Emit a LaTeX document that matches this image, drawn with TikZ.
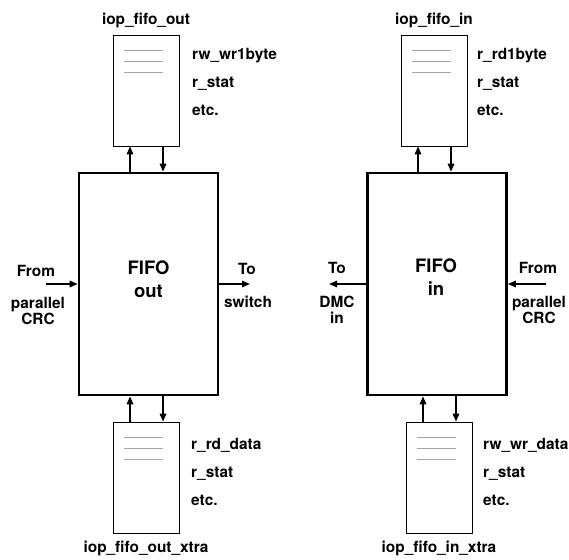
\documentclass[tikz,border=0pt]{standalone}
\usepackage{fontspec}
\setmainfont{TeX Gyre Heros}
\usetikzlibrary{positioning,arrows.meta,calc}

\tikzset{
  fifobox/.style={draw, line width=2.6pt, minimum width=139pt, minimum height=222pt, inner sep=0pt},
  regbox/.style={draw, line width=0.8pt, minimum width=66pt, minimum height=111pt, inner sep=0pt},
  lbl/.style={font=\bfseries\fontsize{15.4}{16}\selectfont, inner sep=1pt},
  reglist/.style={font=\bfseries\fontsize{15.4}{28}\selectfont, align=left, inner sep=0pt, anchor=north west},
  sig/.style={->, line width=1.6pt},
}

\begin{document}
\begin{tikzpicture}[x=1pt, y=-1pt, >={Triangle[length=8pt,width=6.5pt]}]
  \useasboundingbox (0,0) rectangle (569,559);

  % fifo out side
  \node[fifobox] (FifoOut) at (148.5,284) {};
  \node[font=\bfseries\fontsize{18.5}{23}\selectfont, align=center, anchor=north] (FifoOutTxt) at (148.5,257) {FIFO\\out};
  \node[regbox] (RegOut) at (146,90.5) {};
  \node[regbox] (RegOutX) at (146,477.5) {};
  \node[lbl, above=6pt of RegOut] (RegOutName) {iop\_fifo\_out};
  \node[lbl, below=6pt of RegOutX] (RegOutXName) {iop\_fifo\_out\_xtra};
  \node[reglist] (RegOutList) at (192,48) {rw\_wr1byte\\r\_stat\\etc.};
  \node[reglist] (RegOutXList) at (191,438) {r\_rd\_data\\r\_stat\\etc.};

  % fifo in side
  \node[fifobox] (FifoIn) at (437,284) {};
  \node[font=\bfseries\fontsize{18.5}{23}\selectfont, align=center, anchor=north] (FifoInTxt) at (436,255) {FIFO\\in};
  \node[regbox] (RegIn) at (434,90.5) {};
  \node[regbox] (RegInX) at (439,477.5) {};
  \node[lbl, above=6pt of RegIn] (RegInName) {iop\_fifo\_in};
  \node[lbl, below=6pt of RegInX] (RegInXName) {iop\_fifo\_in\_xtra};
  \node[reglist] (RegInList) at (477,48) {r\_rd1byte\\r\_stat\\etc.};
  \node[reglist] (RegInXList) at (483,438) {rw\_wr\_data\\r\_stat\\etc.};

  % register lines
  \foreach \r in {RegOut,RegOutX,RegIn,RegInX}
    \foreach \d in {16,27,38}
      \draw[gray!70, line width=0.7pt] ([xshift=11pt,yshift=-\d pt]\r.north west) -- ++(39,0);

  % register arrows
  \foreach \r/\f in {RegOut/FifoOut,RegIn/FifoIn}{
    \draw[sig] ([xshift=-16pt]\r.south |- \f.north) -- ([xshift=-16pt]\r.south);
    \draw[sig] ([xshift=17pt]\r.south) -- ([xshift=17pt]\r.south |- \f.north);
  }
  \foreach \r/\f in {RegOutX/FifoOut,RegInX/FifoIn}{
    \draw[sig] ([xshift=-16pt]\r.north) -- ([xshift=-16pt]\r.north |- \f.south);
    \draw[sig] ([xshift=17pt]\r.north |- \f.south) -- ([xshift=17pt]\r.north);
  }

  % side signals
  \coordinate (FromOut) at (46,284);
  \coordinate (ToSwitch) at (250,284);
  \coordinate (ToDmc) at (329,284);
  \coordinate (FromIn) at (546,284);
  \draw[sig] (FromOut) -- (FifoOut.west);
  \draw[sig] (FifoOut.east) -- (ToSwitch);
  \draw[sig] (FifoIn.west) -- (ToDmc);
  \draw[sig] (FromIn) -- (FifoIn.east);

  \node[lbl] (FromOutTxt) at (36,271) {From};
  \node[lbl, align=center] (FromOutSrc) at (38,311) {parallel\\CRC};
  \node[lbl] (ToSwitchTxt) at (247,269) {To};
  \node[lbl] (ToSwitchDst) at (248,302) {switch};
  \node[lbl] (ToDmcTxt) at (337,268) {To};
  \node[lbl, align=center] (ToDmcDst) at (337,310) {DMC\\in};
  \node[lbl] (FromInTxt) at (538,268) {From};
  \node[lbl, align=center] (FromInSrc) at (539,310) {parallel\\CRC};
\end{tikzpicture}
\end{document}
